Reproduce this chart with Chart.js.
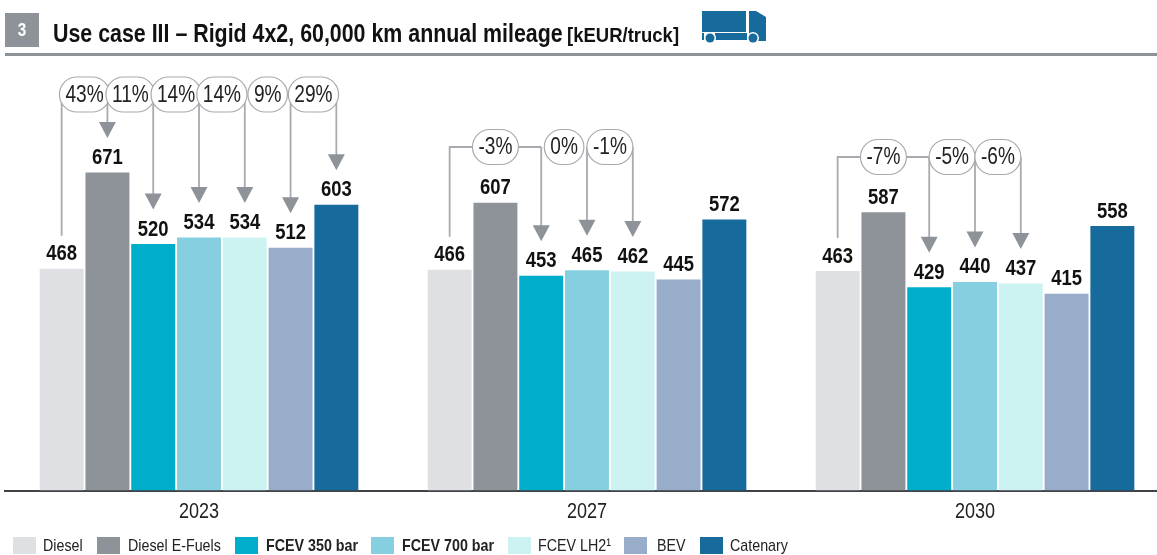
<!DOCTYPE html>
<html>
<head>
<meta charset="utf-8">
<title>Use case III</title>
<script src="https://cdn.jsdelivr.net/npm/chart.js@4"></script>
<style>
  html, body { margin: 0; padding: 0; background: #fff; overflow: hidden; }
  #wrap { position: relative; width: 1157px; height: 555px; overflow: hidden; }
  #chart { position: absolute; left: 0; top: 0; }
</style>
</head>
<body>
<div id="wrap">
  <canvas id="chart" width="1169" height="555"></canvas>
</div>
<script>
const years = ['2023', '2027', '2030'];
const diesel = [468, 466, 463];
const dieselEFuels = [671, 607, 587];
const fcev350 = [520, 453, 429];
const fcev700 = [534, 465, 440];
const fcevLh2 = [534, 462, 437];
const bev = [512, 445, 415];
const catenary = [603, 572, 558];

const seriesNames = ['Diesel', 'Diesel E-Fuels', 'FCEV 350 bar', 'FCEV 700 bar', 'FCEV LH2¹', 'BEV', 'Catenary'];
const seriesColors = ['#dfe0e4', '#8e9299', '#00aecb', '#86cfe0', '#ccf3f1', '#98adc9', '#176a9c'];
const boldSeries = ['FCEV 350 bar', 'FCEV 700 bar'];

// percent change against diesel, one list per year
const deltas = [
  ['43%', '11%', '14%', '14%', '9%', '29%'],
  ['-3%', '0%', '-1%'],
  ['-7%', '-5%', '-6%']
];
// which bar each arrow ends on, and where each pill sits (in bar index units)
const arrowBars = [[1, 2, 3, 4, 5, 6], [2, 3, 4], [2, 3, 4]];
const pillSlots = [[0.5, 1.5, 2.5, 3.5, 4.5, 5.5], [1, 2.5, 3.5], [1, 2.5, 3.5]];
const pillRows = [94.5, 147, 157];

const legendSwatchX = [13, 97, 235, 371, 508, 624, 700];
const legendTextX = [43, 128, 266, 402, 538, 657, 730];

const FONT = '"Liberation Sans", Arial, sans-serif';
const GREY = '#8e9299';
const LINE = '#a7aaae';
const TRUCK = '#176a9c';

const allSeries = [diesel, dieselEFuels, fcev350, fcev700, fcevLh2, bev, catenary];

// reference uses a condensed Arial, no such font here so squeeze it
function squeezed(ctx, txt, x, y, font, sx, align) {
  ctx.save();
  ctx.translate(x, y);
  ctx.scale(sx, 1);
  ctx.font = font;
  ctx.textAlign = align || 'left';
  ctx.fillText(txt, 0, 0);
  ctx.restore();
}

function drawTruck(ctx) {
  ctx.fillStyle = TRUCK;
  ctx.fillRect(702, 11, 44, 21);
  ctx.fillRect(715, 33, 32, 7);
  ctx.fillRect(702, 33, 2, 7);
  ctx.beginPath();
  ctx.moveTo(749, 11);
  ctx.lineTo(756, 11);
  ctx.lineTo(766, 17);
  ctx.lineTo(766, 41);
  ctx.lineTo(749, 41);
  ctx.closePath();
  ctx.fill();
  [710, 753].forEach(x => {
    ctx.fillStyle = '#fff';
    ctx.beginPath();
    ctx.arc(x, 38, 6, 0, Math.PI * 2);
    ctx.fill();
    ctx.fillStyle = TRUCK;
    ctx.beginPath();
    ctx.arc(x, 38, 4.5, 0, Math.PI * 2);
    ctx.fill();
  });
}

// value labels on top of the bars, year labels under the axis
const barLabels = {
  id: 'barLabels',
  afterDatasetsDraw(chart) {
    const ctx = chart.ctx;
    ctx.save();
    ctx.fillStyle = '#111';
    ctx.textBaseline = 'alphabetic';
    chart.data.datasets.forEach((ds, i) => {
      chart.getDatasetMeta(i).data.forEach((bar, j) => {
        squeezed(ctx, ds.data[j], bar.x, bar.y - 8.5, 'bold 22.5px ' + FONT, 0.82, 'center');
      });
    });
    const xs = chart.scales.x;
    ctx.fillStyle = '#222';
    xs.ticks.forEach((t, i) => {
      squeezed(ctx, t.label, xs.getPixelForTick(i), 518, '22px ' + FONT, 0.82, 'center');
    });
    ctx.restore();
  }
};

// pills and arrows going from the diesel bar to the others
const bridges = {
  id: 'bridges',
  afterDatasetsDraw(chart) {
    const ctx = chart.ctx;
    const barAt = (s, g) => chart.getDatasetMeta(s).data[g];
    ctx.save();
    ctx.lineWidth = 1.8;
    years.forEach((y, g) => {
      const rowY = pillRows[g];
      const base = barAt(0, g);
      ctx.strokeStyle = LINE;
      ctx.beginPath();
      ctx.moveTo(base.x, base.y - 33);
      ctx.lineTo(base.x, rowY);
      ctx.lineTo(barAt(arrowBars[g][0], g).x, rowY);
      ctx.stroke();

      arrowBars[g].forEach(s => {
        const bar = barAt(s, g);
        const tip = bar.y - 34.5;
        ctx.strokeStyle = LINE;
        ctx.beginPath();
        ctx.moveTo(bar.x, rowY);
        ctx.lineTo(bar.x, tip - 14);
        ctx.stroke();
        ctx.fillStyle = GREY;
        ctx.beginPath();
        ctx.moveTo(bar.x - 8.5, tip - 16);
        ctx.lineTo(bar.x + 8.5, tip - 16);
        ctx.lineTo(bar.x, tip);
        ctx.closePath();
        ctx.fill();
      });

      const pillFont = '23px ' + FONT;
      const pillSx = 0.83;
      ctx.textBaseline = 'middle';
      deltas[g].forEach((txt, k) => {
        const slot = pillSlots[g][k];
        const a = barAt(Math.floor(slot), g).x;
        const b = barAt(Math.ceil(slot), g).x;
        const cx = (a + b) / 2;
        ctx.font = pillFont;
        const w = ctx.measureText(txt).width * pillSx + 12;
        ctx.beginPath();
        ctx.roundRect(cx - w / 2, rowY - 17.5, w, 35, 17.5);
        ctx.fillStyle = '#fff';
        ctx.fill();
        ctx.strokeStyle = LINE;
        ctx.lineWidth = 1.2;
        ctx.stroke();
        ctx.lineWidth = 1.8;
        ctx.fillStyle = '#222';
        squeezed(ctx, txt, cx, rowY + 1, pillFont, pillSx, 'center');
      });
    });
    ctx.restore();
  }
};

// header + legend
const furniture = {
  id: 'furniture',
  afterDraw(chart) {
    const ctx = chart.ctx;
    ctx.save();
    ctx.fillStyle = GREY;
    ctx.fillRect(5, 13, 34, 34);
    ctx.fillRect(5, 53, 1152, 3);
    ctx.textBaseline = 'alphabetic';
    ctx.fillStyle = '#fff';
    squeezed(ctx, '3', 22, 36, 'bold 18px ' + FONT, 0.85, 'center');
    ctx.fillStyle = '#111';
    squeezed(ctx, 'Use case III – Rigid 4x2, 60,000 km annual mileage', 53, 42, 'bold 25px ' + FONT, 0.855);
    squeezed(ctx, '[kEUR/truck]', 567, 42, 'bold 20px ' + FONT, 0.925);
    drawTruck(ctx);

    ctx.textBaseline = 'middle';
    seriesNames.forEach((name, i) => {
      ctx.fillStyle = seriesColors[i];
      ctx.fillRect(legendSwatchX[i], 537, 23, 17);
      ctx.fillStyle = '#222';
      squeezed(ctx, name, legendTextX[i], 546, (boldSeries.includes(name) ? 'bold ' : '') + '17px ' + FONT, 0.84);
    });
    ctx.restore();
  }
};

new Chart(document.getElementById('chart'), {
  type: 'bar',
  data: {
    labels: years,
    datasets: seriesNames.map((name, i) => ({
      label: name,
      data: allSeries[i],
      backgroundColor: seriesColors[i],
      categoryPercentage: 0.826,
      barPercentage: 0.96
    }))
  },
  options: {
    responsive: false,
    animation: false,
    layout: { padding: { left: 5, top: 64, right: 0, bottom: 0 } },
    plugins: { legend: { display: false }, tooltip: { enabled: false }, title: { display: false } },
    scales: {
      x: {
        grid: { display: false },
        border: { color: '#3f4246', width: 2 },
        ticks: { display: false },
        afterFit(scale) { scale.height = 64.5; }
      },
      y: { display: false, min: 0, max: 900 }
    }
  },
  plugins: [barLabels, bridges, furniture]
});
</script>
</body>
</html>
